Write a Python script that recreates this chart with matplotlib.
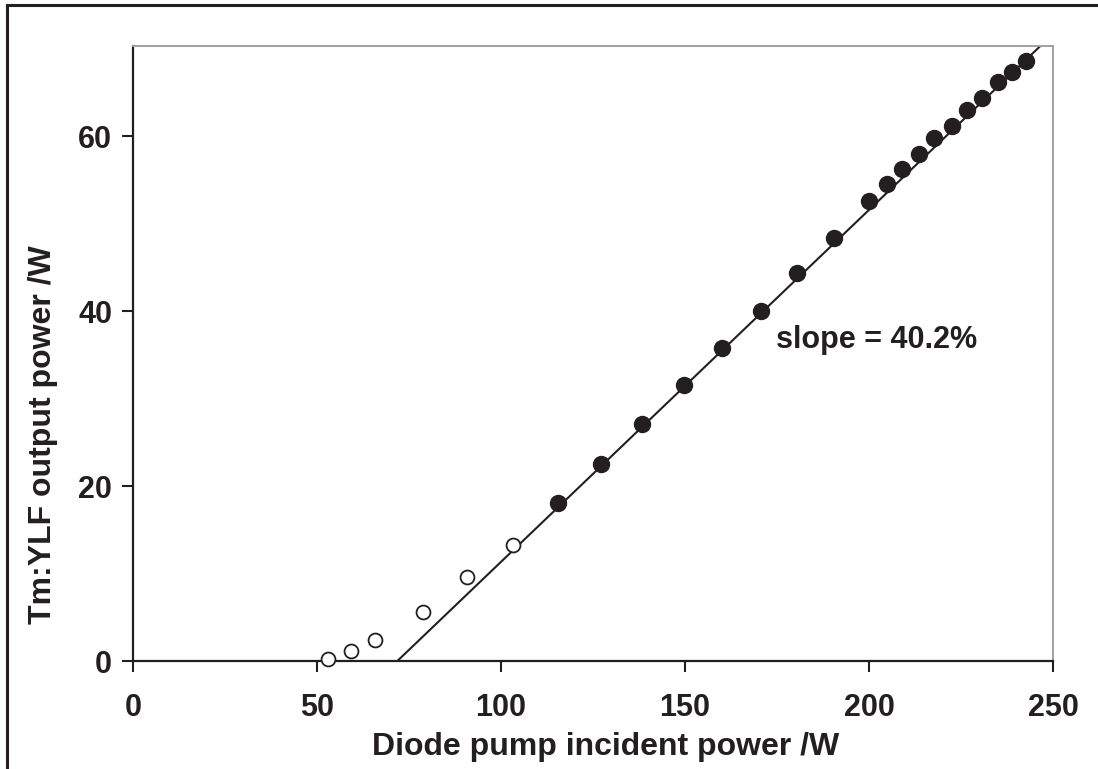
import numpy as np
import matplotlib
matplotlib.use("Agg")
from matplotlib import pyplot as plt
from matplotlib.lines import Line2D

# values
pump_open = [52.9, 59.2, 65.8, 78.7, 90.9, 103.2]
out_open = [0.25, 1.2, 2.5, 5.7, 9.7, 13.3]

pump_fill = [115.6, 127.2, 138.3, 149.7, 160.1, 170.7, 180.4, 190.6, 200.0, 205.0,
             208.9, 213.6, 217.7, 222.6, 226.5, 230.7, 235.0, 238.9, 242.7]
out_fill = [18.1, 22.5, 27.1, 31.6, 35.8, 40.0, 44.4, 48.4, 52.6, 54.5,
            56.2, 58.0, 59.8, 61.2, 63.0, 64.4, 66.2, 67.3, 68.6]

slope = 0.402
threshold = 71.7

x_ticks = [0, 50, 100, 150, 200, 250]
y_ticks = [0, 20, 40, 60]

ink = '#231f20'
plt.rcParams['font.family'] = ['Liberation Sans', 'DejaVu Sans']
plt.rcParams['font.weight'] = 'bold'

fig = plt.figure(figsize=(10.98, 7.69), dpi=100)
ax = fig.add_axes([0.1211, 0.1398, 0.959 - 0.1211, 0.9402 - 0.1398])

# fit line
xl = np.array([threshold, 250])
ax.plot(xl, slope * (xl - threshold), color=ink, lw=1.5, zorder=2)

ax.plot(pump_open, out_open, 'o', mfc='white', mec=ink, mew=1.3, ms=10,
        zorder=3, clip_on=False)
ax.plot(pump_fill, out_fill, 'o', mfc=ink, mec=ink, ms=11.5, zorder=3,
        clip_on=False)

ax.text(174.7, 36.7, 'slope = 40.2%', fontsize=22, fontweight='bold',
        color=ink, va='center', ha='left')

ax.set_xlim(0, 250)
ax.set_ylim(0, 70.3)
ax.set_xticks(x_ticks)
ax.set_yticks(y_ticks)
ax.tick_params(axis='both', direction='out', length=8, width=1.5,
               colors=ink, labelsize=22)
ax.tick_params(axis='x', pad=15)
ax.tick_params(axis='y', pad=7)
for lab in ax.get_xticklabels() + ax.get_yticklabels():
    lab.set_fontweight('bold')

for s in ['left', 'bottom']:
    ax.spines[s].set_color(ink)
    ax.spines[s].set_linewidth(1.6)
for s in ['top', 'right']:
    ax.spines[s].set_color('#a0a0a0')
    ax.spines[s].set_linewidth(1.4)

ax.set_xlabel('Diode pump incident power /W', fontsize=23, fontweight='bold',
              color=ink)
ax.set_ylabel('Tm:YLF output power /W', fontsize=23, fontweight='bold',
              color=ink)
ax.xaxis.set_label_coords(0.514, -0.114)
ax.yaxis.set_label_coords(-0.082, 0.368)

# figure frame (only left and top visible)
fig.add_artist(Line2D([7 / 1098, 7 / 1098], [0, 1 - 5 / 769],
                      color=ink, lw=2.2, transform=fig.transFigure))
fig.add_artist(Line2D([7 / 1098, 1], [1 - 5 / 769, 1 - 5 / 769],
                      color=ink, lw=2.2, transform=fig.transFigure))

fig.savefig('out.png', dpi=100)
